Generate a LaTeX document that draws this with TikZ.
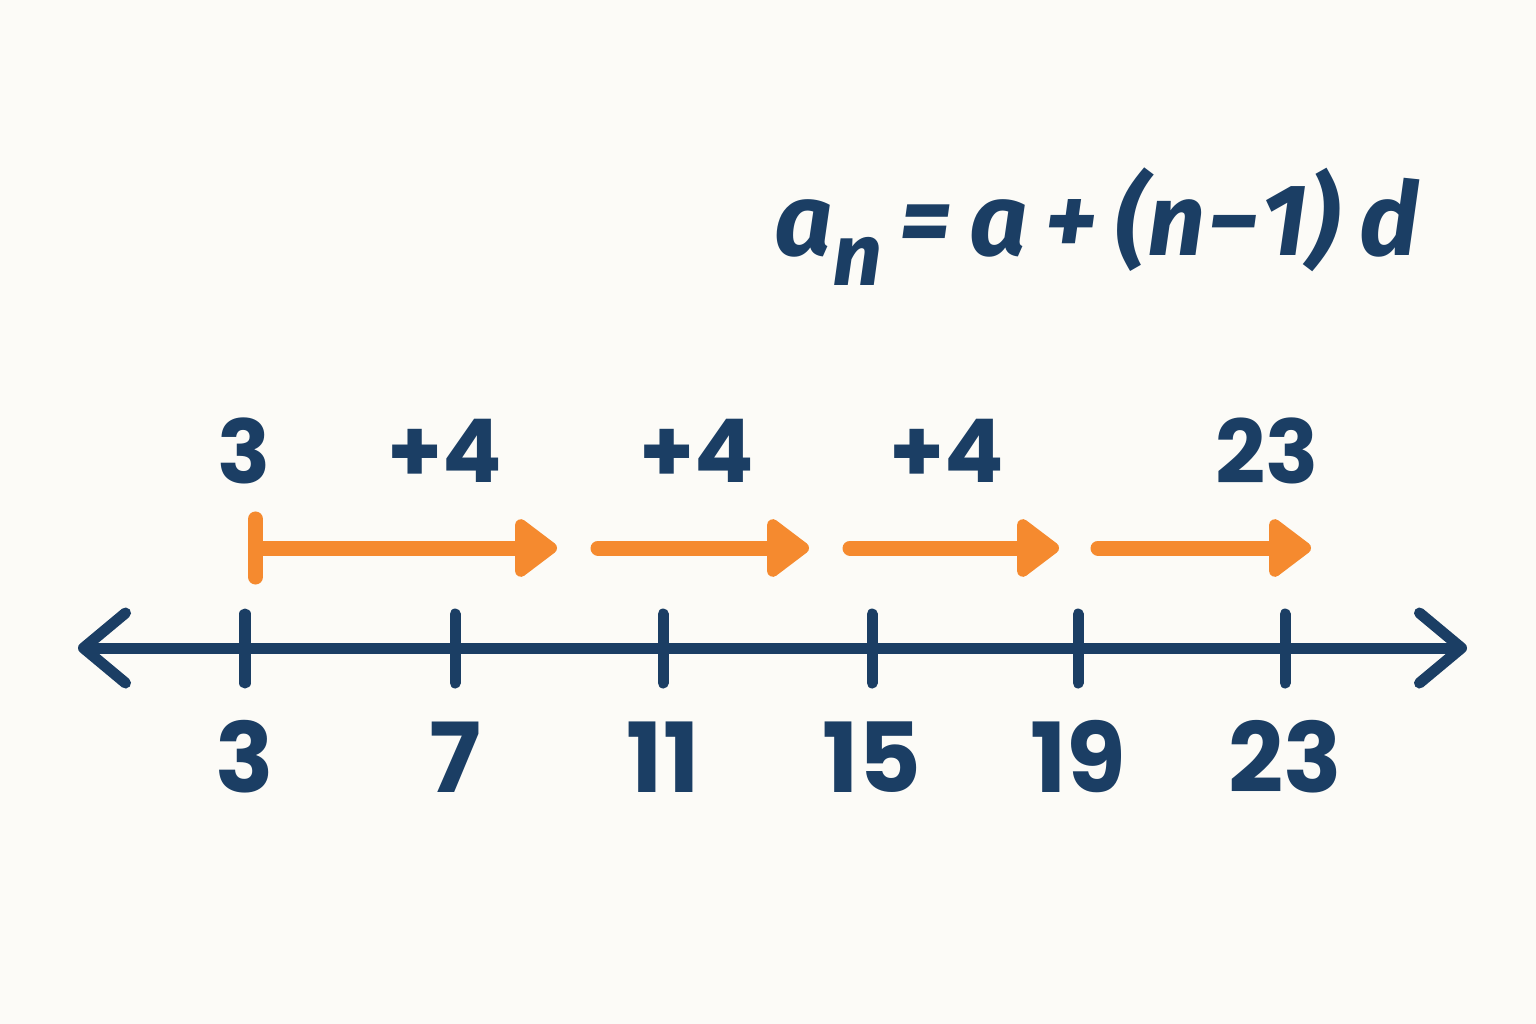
\documentclass[tikz,border=0pt]{standalone}
\usepackage{fontspec}
\setmainfont{Poppins}
\newfontfamily\fira{Fira Sans}
\usetikzlibrary{arrows.meta}
\definecolor{navy}{HTML}{1B3E64}
\definecolor{orng}{HTML}{F58A2F}
\definecolor{bg}{HTML}{FCFBF7}
\newcommand{\fsp}{\hspace{0.17em}}
\begin{document}
\begin{tikzpicture}[x=0.01cm,y=-0.01cm,
  toplbl/.style={text=navy,font=\fontsize{25}{25}\selectfont\bfseries,inner sep=0pt},
  botlbl/.style={text=navy,font=\fontsize{27.5}{27.5}\selectfont\bfseries,inner sep=0pt},
  formula/.style={text=navy,font=\fira\fontsize{29}{29}\selectfont\bfseries\itshape,inner sep=0pt},
  axisline/.style={draw=navy,line width=0.11cm,line cap=round,
    {Straight Barb[length=0.42cm,width=0.7cm,round]}-{Straight Barb[length=0.42cm,width=0.7cm,round]}},
  tickline/.style={draw=navy,line width=0.11cm,line cap=round},
  jump/.style={draw=orng,line width=0.15cm,line cap=round,
    -{Triangle[length=0.46cm,width=0.66cm,round]}},
  firstjump/.style={draw=orng,line width=0.15cm,
    {Bar[width=0.58cm,round]}-{Triangle[length=0.46cm,width=0.66cm,round]}}]
\fill[bg] (0,0) rectangle (1536,1024);
\useasboundingbox (0,0) rectangle (1536,1024);

% formula
\node[formula,anchor=base] (f) at (1097,255)
  {a\raisebox{-0.3em}{\fontsize{25}{25}\selectfont n}\fsp=\fsp a\fsp+\fsp(n\hspace{0.02em}−\hspace{0.02em}1)\hspace{0.2em}d};

% axis
\coordinate (L) at (78,648);
\coordinate (R) at (1467,648);
\draw[axisline] (L) -- (R);

% ticks and labels
\foreach \x/\v/\n in {245/3/a,455/7/b,663/11/c,872/15/d,1078/19/e,1285/23/f}{
  \coordinate (t\n top) at (\x,614);
  \coordinate (t\n bot) at (\x,683);
  \draw[tickline] (t\n top) -- (t\n bot);
  \node[botlbl] (v\n) at (\x,757) {\v};
}

% top labels
\node[toplbl] (s0) at (244,451) {3};
\node[toplbl] (s1) at (445,451) {+4};
\node[toplbl] (s2) at (697,451) {+4};
\node[toplbl] (s3) at (947,451) {+4};
\node[toplbl] (s4) at (1267,451) {23};

% jump arrows
\coordinate (j1a) at (248,548); \coordinate (j1b) at (557,548);
\coordinate (j2a) at (598,548); \coordinate (j2b) at (809,548);
\coordinate (j3a) at (850,548); \coordinate (j3b) at (1059,548);
\coordinate (j4a) at (1098,548); \coordinate (j4b) at (1311,548);
\draw[firstjump] (j1a) -- (j1b);
\draw[jump] (j2a) -- (j2b);
\draw[jump] (j3a) -- (j3b);
\draw[jump] (j4a) -- (j4b);
\end{tikzpicture}
\end{document}
